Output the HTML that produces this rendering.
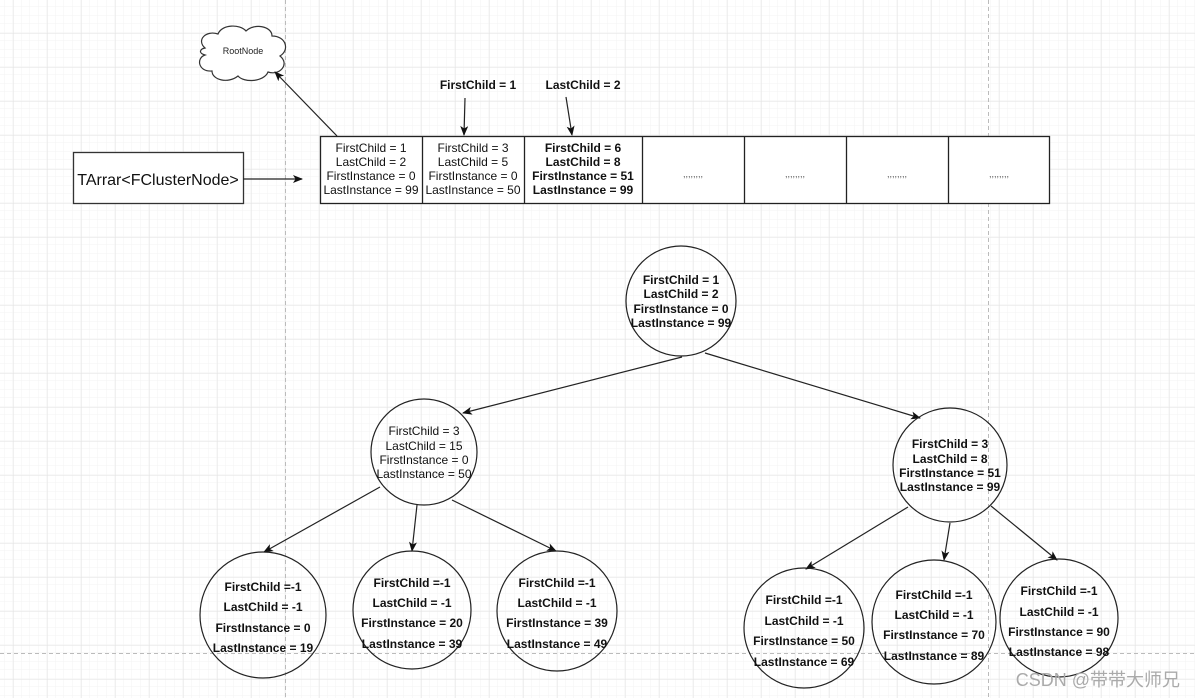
<!DOCTYPE html>
<html><head><meta charset="utf-8"><style>
html,body{margin:0;padding:0;background:#fff;}
svg{display:block;font-family:"Liberation Sans",Arial,sans-serif;}
</style></head><body>
<svg width="1195" height="698" viewBox="0 0 1195 698" xmlns="http://www.w3.org/2000/svg">
<defs>
<pattern id="minor" x="4.5" y="7" width="8.5" height="8.5" patternUnits="userSpaceOnUse">
<path d="M8.5 0V8.5M0 8.5H8.5" stroke="#f3f3f3" stroke-width="1" fill="none"/>
</pattern>
<pattern id="major" x="13" y="33" width="34" height="34" patternUnits="userSpaceOnUse">
<path d="M0 0V34M0 0H34" stroke="#e2e2e2" stroke-width="1" fill="none"/>
</pattern>
<marker id="ar" markerWidth="10" markerHeight="8" refX="9" refY="4" orient="auto" markerUnits="userSpaceOnUse">
<path d="M0 0L10 4L0 8L2.5 4Z" fill="#111"/>
</marker>
</defs>
<rect width="1195" height="698" fill="#fff"/>
<rect width="1195" height="698" fill="url(#minor)"/>
<rect width="1195" height="698" fill="url(#major)"/>
<g stroke="#bbb" stroke-dasharray="4 3" stroke-width="1">
<line x1="285.5" y1="0" x2="285.5" y2="698"/>
<line x1="988.5" y1="0" x2="988.5" y2="698"/>
<line x1="0" y1="653.5" x2="1195" y2="653.5"/>
</g>

<path d="M205 48 C196 40 206 30 218 34 C222 24 240 24 246 31 C254 23 272 26 272 36 C286 36 290 50 280 56 C290 64 280 76 268 72 C264 82 244 83 238 76 C228 84 212 80 212 71 C198 72 196 58 205 55 C198 53 200 49 205 48 Z" fill="#fff" stroke="#333" stroke-width="1.2"/>
<text x="243" y="54" font-size="9" text-anchor="middle" fill="#222">RootNode</text>

<rect x="73.5" y="152.5" width="170" height="51" fill="#fff" stroke="#333" stroke-width="1.3"/>
<text x="158" y="185" font-size="16" text-anchor="middle" fill="#111">TArrar&lt;FClusterNode&gt;</text>
<line x1="243" y1="179" x2="302" y2="179" stroke="#222" stroke-width="1.2" marker-end="url(#ar)"/>

<rect x="320.5" y="136.5" width="729" height="67" fill="#fff" stroke="#222" stroke-width="1.3"/>
<g stroke="#222" stroke-width="1.3">
<line x1="422.5" y1="136" x2="422.5" y2="204"/>
<line x1="524.5" y1="136" x2="524.5" y2="204"/>
<line x1="642.5" y1="136" x2="642.5" y2="204"/>
<line x1="744.5" y1="136" x2="744.5" y2="204"/>
<line x1="846.5" y1="136" x2="846.5" y2="204"/>
<line x1="948.5" y1="136" x2="948.5" y2="204"/>
</g>
<g font-size="12" text-anchor="middle" fill="#111">
<text x="371" y="152">FirstChild = 1</text><text x="371" y="166">LastChild = 2</text><text x="371" y="180">FirstInstance = 0</text><text x="371" y="194">LastInstance = 99</text>
<text x="473" y="152">FirstChild = 3</text><text x="473" y="166">LastChild = 5</text><text x="473" y="180">FirstInstance = 0</text><text x="473" y="194">LastInstance = 50</text>
<text x="424" y="435">FirstChild = 3</text><text x="424" y="450">LastChild = 15</text><text x="424" y="464">FirstInstance = 0</text><text x="424" y="478">LastInstance = 50</text>
</g>
<g font-size="12" font-weight="bold" text-anchor="middle" fill="#111">
<text x="583" y="152">FirstChild = 6</text><text x="583" y="166">LastChild = 8</text><text x="583" y="180">FirstInstance = 51</text><text x="583" y="194">LastInstance = 99</text>
<text x="478" y="89">FirstChild = 1</text>
<text x="583" y="89">LastChild = 2</text>
</g>
<g font-size="9" text-anchor="middle" fill="#555">
<text x="693" y="177">,,,,,,,,</text><text x="795" y="177">,,,,,,,,</text><text x="897" y="177">,,,,,,,,</text><text x="999" y="177">,,,,,,,,</text>
</g>
<g stroke="#222" stroke-width="1.2" fill="none" marker-end="url(#ar)">
<line x1="337" y1="136" x2="275" y2="72"/>
<line x1="465" y1="98" x2="464" y2="135"/>
<line x1="566" y1="97" x2="572" y2="135"/>
<line x1="682" y1="357" x2="463" y2="413"/>
<line x1="705" y1="353" x2="920" y2="418"/>
<line x1="380" y1="487" x2="264" y2="552"/>
<line x1="417" y1="505" x2="412" y2="551"/>
<line x1="452" y1="500" x2="556" y2="551"/>
<line x1="908" y1="507" x2="806" y2="569"/>
<line x1="950" y1="523" x2="944" y2="560"/>
<line x1="991" y1="506" x2="1057" y2="560"/>
</g>

<g fill="none" stroke="#222" stroke-width="1.2">
<circle cx="681" cy="301" r="55"/>
<circle cx="424" cy="452" r="53"/>
<circle cx="950" cy="465" r="57"/>
<circle cx="263" cy="615" r="63"/>
<circle cx="412" cy="610" r="59"/>
<circle cx="557" cy="611" r="60"/>
<circle cx="804" cy="628" r="60"/>
<circle cx="934" cy="622" r="62"/>
<circle cx="1059" cy="618" r="59"/>
</g>
<g font-size="12" font-weight="bold" text-anchor="middle" fill="#111">
<text x="681" y="284">FirstChild = 1</text><text x="681" y="298">LastChild = 2</text><text x="681" y="313">FirstInstance = 0</text><text x="681" y="327">LastInstance = 99</text>
<text x="950" y="448">FirstChild = 3</text><text x="950" y="463">LastChild = 8</text><text x="950" y="477">FirstInstance = 51</text><text x="950" y="491">LastInstance = 99</text>
<text x="263" y="591">FirstChild =-1</text><text x="263" y="611">LastChild = -1</text><text x="263" y="632">FirstInstance = 0</text><text x="263" y="652">LastInstance = 19</text>
<text x="412" y="587">FirstChild =-1</text><text x="412" y="607">LastChild = -1</text><text x="412" y="627">FirstInstance = 20</text><text x="412" y="648">LastInstance = 39</text>
<text x="557" y="587">FirstChild =-1</text><text x="557" y="607">LastChild = -1</text><text x="557" y="627">FirstInstance = 39</text><text x="557" y="648">LastInstance = 49</text>
<text x="804" y="604">FirstChild =-1</text><text x="804" y="625">LastChild = -1</text><text x="804" y="645">FirstInstance = 50</text><text x="804" y="666">LastInstance = 69</text>
<text x="934" y="599">FirstChild =-1</text><text x="934" y="619">LastChild = -1</text><text x="934" y="639">FirstInstance = 70</text><text x="934" y="660">LastInstance = 89</text>
<text x="1059" y="595">FirstChild =-1</text><text x="1059" y="616">LastChild = -1</text><text x="1059" y="636">FirstInstance = 90</text><text x="1059" y="656">LastInstance = 98</text>
</g>
<text x="1180" y="686" font-size="18" text-anchor="end" fill="#aaa" font-family="'Liberation Sans','Noto Sans CJK SC',sans-serif">CSDN @带带大师兄</text>
</svg>
</body></html>
